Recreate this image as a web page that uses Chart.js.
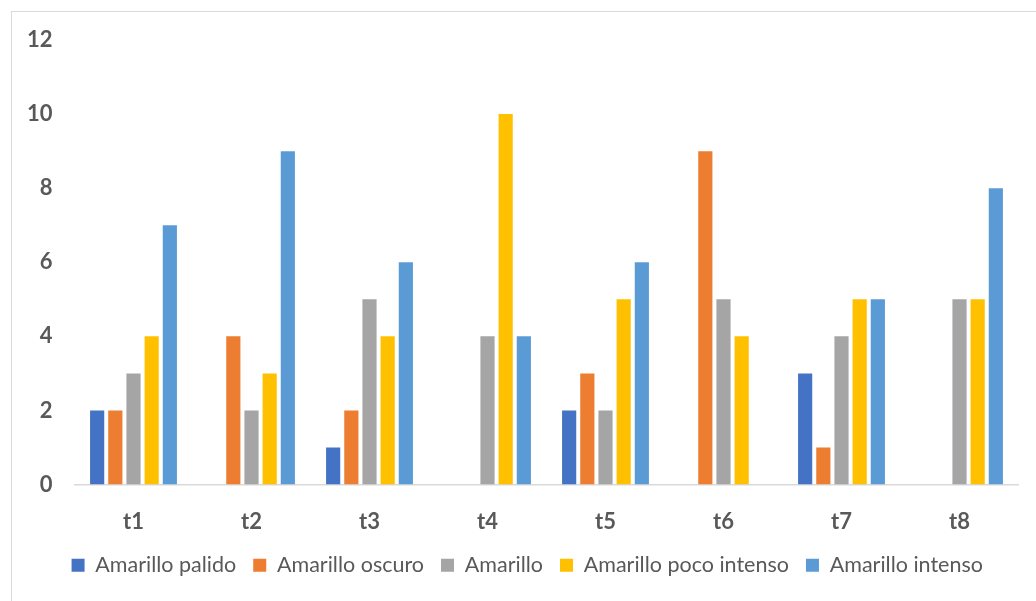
<!DOCTYPE html>
<html>
<head>
<meta charset="utf-8">
<script src="https://cdn.jsdelivr.net/npm/chart.js@4/dist/chart.umd.min.js"></script>
<style>
  html, body { margin: 0; padding: 0; background: #fff; overflow: hidden; }
  #frame {
    position: absolute; left: 11px; top: 11px;
    width: 1030px; height: 600px;
    border: 1px solid #d9d9d9; background: #fff;
  }
  #chart { display: block; }
</style>
</head>
<body>
<div id="frame"><canvas id="chart" width="1030" height="600"></canvas></div>
<script>
// Muestras (t1..t8) y número de observaciones por tono de amarillo
const categories = ['t1', 't2', 't3', 't4', 't5', 't6', 't7', 't8'];
const amarilloPalido       = [2, 0, 1, 0, 2, 0, 3, 0];
const amarilloOscuro       = [2, 4, 2, 0, 3, 9, 1, 0];
const amarillo             = [3, 2, 5, 4, 2, 5, 4, 5];
const amarilloPocoIntenso  = [4, 3, 4, 10, 5, 4, 5, 5];
const amarilloIntenso      = [7, 9, 6, 4, 6, 0, 5, 8];
const yTicks = [0, 2, 4, 6, 8, 10, 12];

const seriesNames  = ['Amarillo palido', 'Amarillo oscuro', 'Amarillo', 'Amarillo poco intenso', 'Amarillo intenso'];
const seriesValues = [amarilloPalido, amarilloOscuro, amarillo, amarilloPocoIntenso, amarilloIntenso];
const seriesColors = ['#4472C4', '#ED7D31', '#A5A5A5', '#FFC000', '#5B9BD5'];

const textColor = '#595959';
const fontFamily = 'Lato, "Open Sans", sans-serif';

// Nudge the bottom legend a little to the right so the row sits centred under the bars
const legendShift = {
  id: 'legendShift',
  afterLayout(chart) {
    if (chart.legend) {
      chart.legend.left += 12;
      chart.legend.right += 12;
    }
  }
};

new Chart(document.getElementById('chart'), {
  type: 'bar',
  data: {
    labels: categories,
    datasets: seriesNames.map((name, i) => ({
      label: name,
      data: seriesValues[i],
      backgroundColor: seriesColors[i],
      borderWidth: 0,
      categoryPercentage: 0.77,
      barPercentage: 0.78
    }))
  },
  plugins: [legendShift],
  options: {
    responsive: false,
    animation: false,
    layout: { padding: { top: 28, right: 23.5, bottom: 26, left: 0 } },
    plugins: {
      tooltip: { enabled: false },
      legend: {
        position: 'bottom',
        labels: {
          color: textColor,
          font: { family: fontFamily, size: 21.5 },
          boxWidth: 13,
          boxHeight: 13,
          padding: 17
        }
      }
    },
    scales: {
      x: {
        afterFit: (scale) => { scale.height = 53; },
        grid: { display: false, drawTicks: false },
        border: { display: true, color: '#d9d9d9', width: 1.5 },
        ticks: {
          color: textColor,
          font: { family: fontFamily, size: 22, weight: 'bold' },
          padding: 24
        }
      },
      y: {
        min: 0,
        max: 12,
        afterBuildTicks: (scale) => { scale.ticks = yTicks.map(v => ({ value: v })); },
        afterFit: (scale) => {
          scale.width = 62.5;
          scale.paddingTop = 12;
          scale.paddingBottom = 12;
        },
        grid: { display: false, drawTicks: false },
        border: { display: false },
        ticks: {
          color: textColor,
          font: { family: fontFamily, size: 22, weight: 'bold' },
          padding: 22
        }
      }
    }
  }
});
</script>
</body>
</html>
